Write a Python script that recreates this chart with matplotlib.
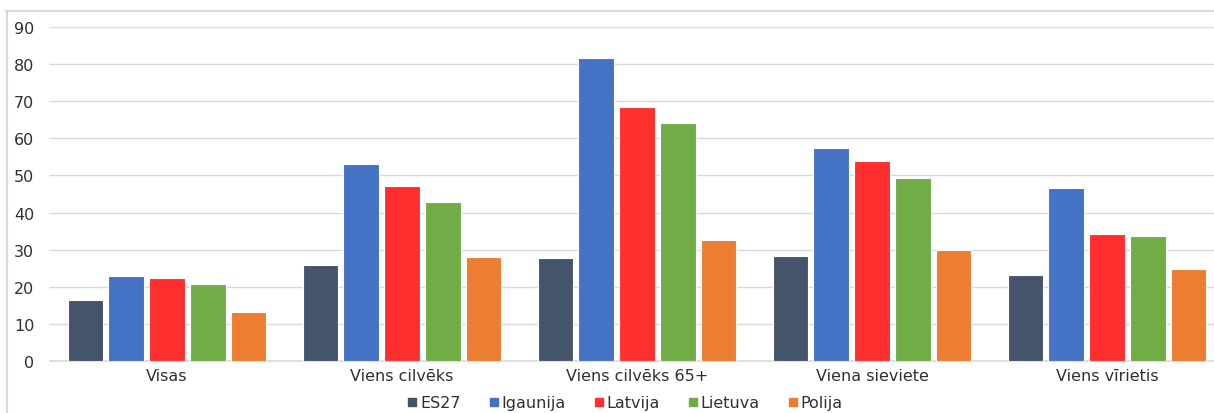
import matplotlib
matplotlib.use("Agg")
import matplotlib.pyplot as plt
from matplotlib.lines import Line2D
import numpy as np

plt.rcParams["font.family"] = ["DejaVu Sans"]

categories = ["Visas", "Viens cilvēks", "Viens cilvēks 65+", "Viena sieviete", "Viens vīrietis"]
series_names = ["ES27", "Igaunija", "Latvija", "Lietuva", "Polija"]
es27 = [16.4, 25.9, 27.8, 28.3, 23.2]
igaunija = [22.9, 53.1, 81.6, 57.4, 46.6]
latvija = [22.4, 47.2, 68.4, 53.9, 34.2]
lietuva = [20.7, 42.8, 64.1, 49.3, 33.7]
polija = [13.2, 28.0, 32.6, 29.9, 24.8]
yticks = [0, 10, 20, 30, 40, 50, 60, 70, 80, 90]

series = [es27, igaunija, latvija, lietuva, polija]
colors = ["#44546A", "#4472C4", "#FF2F2F", "#70AD47", "#ED7D31"]

W, H = 1214, 414
fig = plt.figure(figsize=(W / 100, H / 100), dpi=100)
ax = fig.add_axes([49.5 / W, 52 / H, 1175 / W, 334 / H])

x = np.arange(len(categories))
step = 0.1734
bw = 0.153
for i, (vals, c, name) in enumerate(zip(series, colors, series_names)):
    ax.bar(x + (i - 2) * step, vals, width=bw, color=c, edgecolor="white",
           linewidth=0.8, label=name, zorder=3)

ax.set_xlim(-0.5, len(categories) - 0.5)
ax.set_ylim(0, 90)
ax.set_yticks(yticks)
ax.set_yticklabels([str(t) for t in yticks], fontsize=11.5, color="#303030")
ax.set_xticks(x)
ax.set_xticklabels(categories, fontsize=11.5, color="#303030")
ax.tick_params(axis="both", length=0)
ax.tick_params(axis="y", pad=11)
ax.tick_params(axis="x", pad=5)
ax.yaxis.grid(True, color="#d9d9d9", linewidth=1.0, zorder=0)
for s in ["top", "right", "left"]:
    ax.spines[s].set_visible(False)
ax.spines["bottom"].set_color("#d9d9d9")
ax.spines["bottom"].set_linewidth(1.2)

handles = [Line2D([0], [0], marker="s", linestyle="none", markersize=5.5,
                  markerfacecolor=c, markeredgecolor=c) for c in colors]
fig.legend(handles, series_names, loc="center", bbox_to_anchor=(624 / W, 1 - 404 / H),
           ncol=5, frameon=False, fontsize=11.5, handletextpad=0.05,
           columnspacing=1.6, labelcolor="#303030", handlelength=0.9)

# chart frame border (top and left)
fig.add_artist(Line2D([6 / W, 1.0], [1 - 11.5 / H, 1 - 11.5 / H], color="#d9d9d9",
                      linewidth=1.5, transform=fig.transFigure))
fig.add_artist(Line2D([6.5 / W, 6.5 / W], [0, 1 - 11.5 / H], color="#d9d9d9",
                      linewidth=1.5, transform=fig.transFigure))

fig.savefig("out.png", dpi=100)
